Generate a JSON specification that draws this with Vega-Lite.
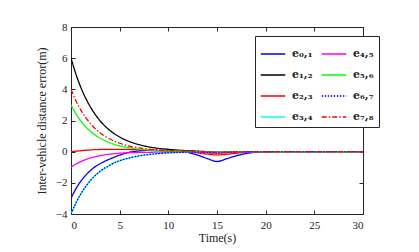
{
  "$schema": "https://vega.github.io/schema/vega-lite/v6.json",
  "width": 292,
  "height": 187,
  "autosize": {"type": "none"},
  "padding": {"left": 71, "top": 27, "right": 56, "bottom": 38},
  "background": "white",
  "config": {
    "view": {"stroke": null},
    "font": "Liberation Serif",
    "axis": {
      "grid": false,
      "domainColor": "#262626",
      "tickColor": "#262626",
      "labelColor": "#222222",
      "titleColor": "#222222",
      "labelFont": "Liberation Serif",
      "titleFont": "Liberation Serif",
      "labelFontSize": 11,
      "titleFontSize": 12,
      "titleFontWeight": "normal",
      "tickSize": -4,
      "domainWidth": 1
    }
  },
  "data": {
    "values": [
      {"t": 0, "e01": -3, "e12": 6, "e23": 0, "e34": -4, "e45": -1, "e56": 3, "e67": -4, "e78": 4},
      {"t": 0.5, "e01": -2.39, "e12": 4.99, "e23": 0.03, "e34": -3.3, "e45": -0.8, "e56": 2.44, "e67": -3.3, "e78": 3.27},
      {"t": 1, "e01": -1.9, "e12": 4.14, "e23": 0.06, "e34": -2.72, "e45": -0.64, "e56": 1.98, "e67": -2.72, "e78": 2.68},
      {"t": 1.5, "e01": -1.52, "e12": 3.44, "e23": 0.09, "e34": -2.25, "e45": -0.51, "e56": 1.61, "e67": -2.25, "e78": 2.2},
      {"t": 2, "e01": -1.21, "e12": 2.86, "e23": 0.11, "e34": -1.85, "e45": -0.4, "e56": 1.3, "e67": -1.85, "e78": 1.8},
      {"t": 2.5, "e01": -0.96, "e12": 2.38, "e23": 0.13, "e34": -1.53, "e45": -0.32, "e56": 1.06, "e67": -1.53, "e78": 1.47},
      {"t": 3, "e01": -0.77, "e12": 1.97, "e23": 0.14, "e34": -1.26, "e45": -0.26, "e56": 0.86, "e67": -1.26, "e78": 1.2},
      {"t": 3.5, "e01": -0.61, "e12": 1.64, "e23": 0.15, "e34": -1.04, "e45": -0.2, "e56": 0.7, "e67": -1.04, "e78": 0.99},
      {"t": 4, "e01": -0.47, "e12": 1.36, "e23": 0.15, "e34": -0.86, "e45": -0.16, "e56": 0.57, "e67": -0.86, "e78": 0.81},
      {"t": 5, "e01": -0.22, "e12": 0.94, "e23": 0.15, "e34": -0.58, "e45": -0.1, "e56": 0.37, "e67": -0.58, "e78": 0.54},
      {"t": 6, "e01": -0.04, "e12": 0.65, "e23": 0.14, "e34": -0.4, "e45": -0.07, "e56": 0.25, "e67": -0.4, "e78": 0.36},
      {"t": 7, "e01": 0.05, "e12": 0.45, "e23": 0.12, "e34": -0.27, "e45": -0.05, "e56": 0.16, "e67": -0.27, "e78": 0.24},
      {"t": 8, "e01": 0.08, "e12": 0.31, "e23": 0.1, "e34": -0.18, "e45": -0.04, "e56": 0.11, "e67": -0.18, "e78": 0.16},
      {"t": 9, "e01": 0.07, "e12": 0.21, "e23": 0.08, "e34": -0.12, "e45": -0.03, "e56": 0.07, "e67": -0.12, "e78": 0.11},
      {"t": 10, "e01": 0.05, "e12": 0.15, "e23": 0.06, "e34": -0.08, "e45": -0.02, "e56": 0.05, "e67": -0.08, "e78": 0.07},
      {"t": 11, "e01": 0.02, "e12": 0.1, "e23": 0.04, "e34": -0.05, "e45": -0.01, "e56": 0.03, "e67": -0.05, "e78": 0.05},
      {"t": 11.5, "e01": 0, "e12": 0.08, "e23": 0.03, "e34": -0.04, "e45": -0.01, "e56": 0.02, "e67": -0.04, "e78": 0.04},
      {"t": 12, "e01": -0.05, "e12": 0.06, "e23": 0, "e34": -0.03, "e45": -0.02, "e56": 0.01, "e67": -0.03, "e78": 0.03},
      {"t": 13, "e01": -0.22, "e12": 0.03, "e23": -0.08, "e34": -0.03, "e45": -0.05, "e56": 0, "e67": -0.03, "e78": 0.01},
      {"t": 14, "e01": -0.44, "e12": 0, "e23": -0.16, "e34": -0.05, "e45": -0.08, "e56": -0.02, "e67": -0.05, "e78": -0.02},
      {"t": 15, "e01": -0.63, "e12": -0.03, "e23": -0.21, "e34": -0.08, "e45": -0.1, "e56": -0.04, "e67": -0.08, "e78": -0.05},
      {"t": 16, "e01": -0.45, "e12": -0.02, "e23": -0.17, "e34": -0.05, "e45": -0.07, "e56": -0.02, "e67": -0.05, "e78": -0.03},
      {"t": 17, "e01": -0.26, "e12": -0.01, "e23": -0.1, "e34": -0.02, "e45": -0.04, "e56": -0.01, "e67": -0.02, "e78": -0.01},
      {"t": 18, "e01": -0.12, "e12": 0, "e23": -0.05, "e34": -0.01, "e45": -0.02, "e56": 0, "e67": -0.01, "e78": 0},
      {"t": 19, "e01": -0.04, "e12": 0, "e23": -0.02, "e34": 0, "e45": -0.01, "e56": 0, "e67": 0, "e78": 0},
      {"t": 20, "e01": -0.01, "e12": 0, "e23": 0, "e34": 0, "e45": 0, "e56": 0, "e67": 0, "e78": 0},
      {"t": 22, "e01": 0, "e12": 0, "e23": 0, "e34": 0, "e45": 0, "e56": 0, "e67": 0, "e78": 0},
      {"t": 25, "e01": 0, "e12": 0, "e23": 0, "e34": 0, "e45": 0, "e56": 0, "e67": 0, "e78": 0},
      {"t": 30, "e01": 0, "e12": 0, "e23": 0, "e34": 0, "e45": 0, "e56": 0, "e67": 0, "e78": 0}
    ]
  },
  "transform": [
    {"fold": ["e01", "e12", "e23", "e34", "e45", "e56", "e67", "e78"], "as": ["series", "e"]}
  ],
  "resolve": {"axis": {"x": "independent", "y": "independent"}},
  "layer": [
    {
      "mark": {"type": "line", "strokeWidth": 1.3, "interpolate": "monotone", "clip": true},
      "encoding": {
        "x": {
          "field": "t", "type": "quantitative",
          "scale": {"domain": [0, 30], "nice": false},
          "axis": {"orient": "bottom", "values": [0, 5, 10, 15, 20, 25, 30], "title": "Time(s)", "labelPadding": 9, "titlePadding": 2}
        },
        "y": {
          "field": "e", "type": "quantitative",
          "scale": {"domain": [-4, 8], "nice": false, "zero": false},
          "axis": {"orient": "left", "values": [-4, -2, 0, 2, 4, 6, 8], "title": "Inter-vehicle distance error(m)", "labelPadding": 8, "titlePadding": 7}
        },
        "color": {
          "field": "series", "type": "nominal",
          "scale": {
            "domain": ["e01", "e12", "e23", "e34", "e45", "e56", "e67", "e78"],
            "range": ["#0000ff", "#000000", "#ff0000", "#00ffff", "#ff00ff", "#00ff00", "#0000ff", "#ff0000"]
          },
          "legend": {
            "orient": "none", "legendX": 184, "legendY": 9, "columns": 2, "title": null,
            "strokeColor": "#262626", "fillColor": "white", "padding": 5,
            "symbolType": "stroke", "symbolSize": 600, "symbolStrokeWidth": 1.3,
            "labelFont": "DejaVu Serif", "labelFontSize": 11, "labelFontWeight": "bold", "labelColor": "#222222",
            "rowPadding": 3, "columnPadding": 6, "labelOffset": 6,
            "labelExpr": "datum.label == 'e01' ? 'e₀,₁' : datum.label == 'e12' ? 'e₁,₂' : datum.label == 'e23' ? 'e₂,₃' : datum.label == 'e34' ? 'e₃,₄' : datum.label == 'e45' ? 'e₄,₅' : datum.label == 'e56' ? 'e₅,₆' : datum.label == 'e67' ? 'e₆,₇' : 'e₇,₈'"
          }
        },
        "strokeDash": {
          "field": "series", "type": "nominal",
          "scale": {
            "domain": ["e01", "e12", "e23", "e34", "e45", "e56", "e67", "e78"],
            "range": [[1, 0], [1, 0], [1, 0], [1, 0], [1, 0], [1, 0], [1.5, 1.5], [5, 2, 1.5, 2]]
          },
          "legend": null
        }
      }
    },
    {
      "mark": {"type": "point", "opacity": 0},
      "encoding": {
        "x": {"field": "t", "type": "quantitative", "axis": {"orient": "top", "values": [0, 5, 10, 15, 20, 25, 30], "labels": false, "title": null}},
        "y": {"field": "e", "type": "quantitative", "axis": {"orient": "right", "values": [-4, -2, 0, 2, 4, 6, 8], "labels": false, "title": null}}
      }
    }
  ]
}
